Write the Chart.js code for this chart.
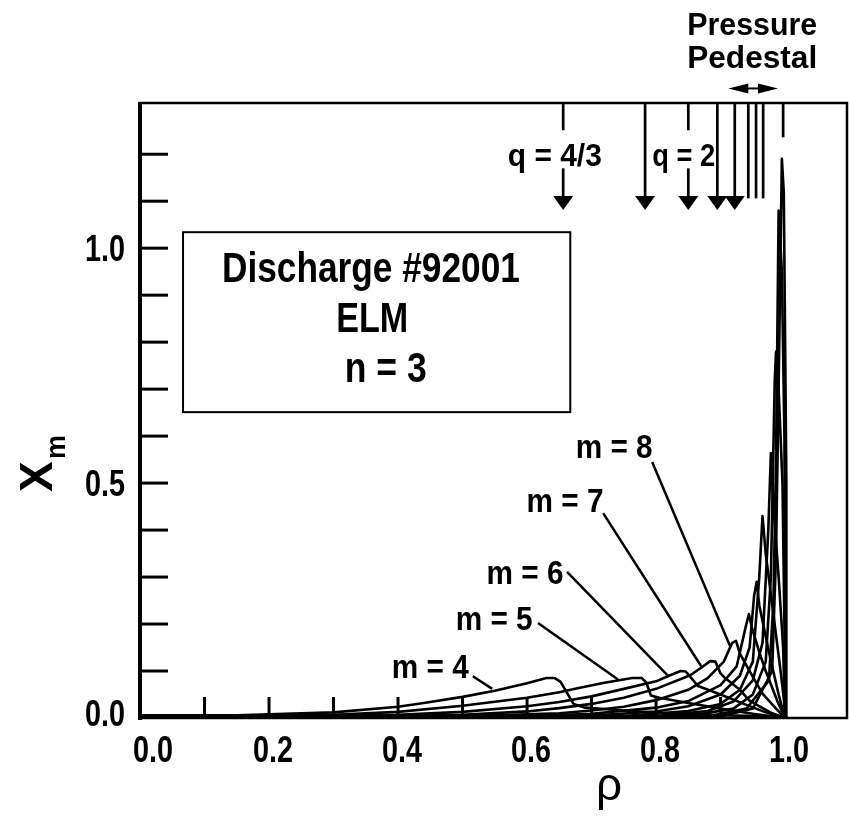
<!DOCTYPE html>
<html>
<head>
<meta charset="utf-8">
<script src="https://cdn.jsdelivr.net/npm/chart.js@4.4.1/dist/chart.umd.min.js"></script>
<style>
  html, body { margin: 0; padding: 0; background: #fff; }
  #wrap { width: 849px; height: 819px; }
</style>
</head>
<body>
<div id="wrap"><canvas id="xmChart"></canvas></div>
<script>
// X_m profiles of the n = 3 harmonics against rho, one curve per poloidal m
const modeNumbers = [4, 5, 6, 7, 8, 9, 10, 11, 12, 13, 14, 15];

const m4 = [[0, 0.006], [0.15, 0.006], [0.3, 0.012], [0.4, 0.024], [0.44, 0.032], [0.5, 0.045], [0.55, 0.058],
  [0.6, 0.074], [0.63, 0.085], [0.643, 0.085], [0.652, 0.077], [0.672, 0.03], [0.69, 0.022], [0.75, 0.016],
  [0.82, 0.01], [0.9, 0.006], [0.96, 0.004], [1.0, 0]];
const m5 = [[0, 0.005], [0.2, 0.005], [0.3, 0.007], [0.4, 0.013], [0.5, 0.026], [0.6, 0.043], [0.65, 0.055],
  [0.68, 0.064], [0.72, 0.075], [0.763, 0.085], [0.778, 0.085], [0.785, 0.075], [0.792, 0.048], [0.805, 0.043],
  [0.85, 0.032], [0.9, 0.02], [0.95, 0.009], [1.0, 0]];
const m6 = [[0, 0.005], [0.3, 0.005], [0.4, 0.007], [0.5, 0.013], [0.6, 0.025], [0.65, 0.034], [0.7, 0.046],
  [0.75, 0.062], [0.8, 0.078], [0.82, 0.09], [0.838, 0.1], [0.846, 0.099], [0.857, 0.081], [0.865, 0.068],
  [0.9, 0.05], [0.94, 0.028], [0.97, 0.012], [1.0, 0]];
const m7 = [[0, 0.004], [0.4, 0.004], [0.5, 0.007], [0.6, 0.014], [0.65, 0.021], [0.7, 0.03], [0.75, 0.043],
  [0.8, 0.062], [0.853, 0.091], [0.871, 0.108], [0.884, 0.121], [0.892, 0.12], [0.9, 0.095], [0.907, 0.085],
  [0.93, 0.06], [0.944, 0.038], [0.96, 0.025], [0.98, 0.01], [1.0, 0]];
const m8 = [[0, 0.004], [0.5, 0.004], [0.6, 0.008], [0.65, 0.01], [0.7, 0.016], [0.75, 0.024], [0.8, 0.038],
  [0.85, 0.06], [0.88, 0.085], [0.905, 0.12], [0.918, 0.16], [0.924, 0.164], [0.93, 0.137], [0.945, 0.1],
  [0.965, 0.052], [0.986, 0.02], [1.0, 0]];
const m9 = [[0, 0.003], [0.6, 0.004], [0.7, 0.009], [0.8, 0.022], [0.85, 0.036], [0.9, 0.07], [0.925, 0.11],
  [0.94, 0.2], [0.944, 0.221], [0.949, 0.19], [0.96, 0.14], [0.97, 0.1], [0.988, 0.036], [1.0, 0]];
const m10 = [[0, 0.003], [0.7, 0.005], [0.8, 0.014], [0.85, 0.025], [0.9, 0.05], [0.93, 0.09], [0.945, 0.15],
  [0.952, 0.26], [0.956, 0.29], [0.96, 0.24], [0.975, 0.14], [0.99, 0.05], [1.0, 0]];
const m11 = [[0, 0.002], [0.75, 0.004], [0.85, 0.015], [0.9, 0.03], [0.93, 0.06], [0.95, 0.12], [0.96, 0.3],
  [0.965, 0.43], [0.97, 0.35], [0.982, 0.22], [0.993, 0.1], [0.999, 0.03], [1.0, 0]];
const m12 = [[0, 0.002], [0.8, 0.004], [0.88, 0.015], [0.92, 0.035], [0.95, 0.08], [0.965, 0.16], [0.974, 0.4],
  [0.978, 0.564], [0.982, 0.45], [0.99, 0.3], [0.997, 0.15], [1.0, 0]];
const m13 = [[0, 0.001], [0.85, 0.004], [0.92, 0.02], [0.95, 0.05], [0.97, 0.12], [0.978, 0.3], [0.984, 0.72],
  [0.986, 0.78], [0.99, 0.7], [0.996, 0.5], [0.999, 0.2], [1.0, 0]];
const m14 = [[0, 0.001], [0.88, 0.003], [0.94, 0.02], [0.975, 0.08], [0.982, 0.25], [0.986, 0.55], [0.99, 1.08],
  [0.995, 0.95], [0.999, 0.6], [1.001, 0]];
const m15 = [[0, 0.001], [0.9, 0.003], [0.95, 0.02], [0.98, 0.1], [0.986, 0.35], [0.99, 0.7], [0.995, 1.19],
  [0.998, 1.12], [1.002, 0.5], [1.002, 0]];
const modeCurves = [m4, m5, m6, m7, m8, m9, m10, m11, m12, m13, m14, m15];

// axes
const xTicks = [0.1, 0.2, 0.3, 0.4, 0.5, 0.6, 0.7, 0.8, 0.9, 1.0];
const xTickLabels = ['0.0', '0.2', '0.4', '0.6', '0.8', '1.0'];
const xLabelValues = [0, 0.2, 0.4, 0.6, 0.8, 1.0];
const yTicks = [0.1, 0.2, 0.3, 0.4, 0.5, 0.6, 0.7, 0.8, 0.9, 1.0, 1.1, 1.2];
const yTickLabels = ['0.0', '0.5', '1.0'];
const yLabelValues = [0, 0.5, 1.0];

// rational surfaces along the top
const qArrowRho = [0.656, 0.783, 0.850, 0.895, 0.922];
const qLineRho = [0.943, 0.955, 0.966];
const edgeRho = 0.997;
const pedestalRho = [0.912, 0.989];

// labelled harmonics: text anchor and the point the leader touches
const labelModes = ['m = 4', 'm = 5', 'm = 6', 'm = 7', 'm = 8'];
const labelAt = [[0.450, 0.085], [0.549, 0.187], [0.597, 0.285], [0.659, 0.438], [0.735, 0.553]];
const leaderFrom = [[0.516, 0.089], [0.617, 0.202], [0.662, 0.311], [0.718, 0.436], [0.794, 0.545]];
const leaderTo = [[0.546, 0.062], [0.741, 0.082], [0.819, 0.089], [0.871, 0.108], [0.915, 0.152]];

const FONT = '"Liberation Sans", Arial, sans-serif';

// bold text squeezed to a given width, centred on cx
function fitText(ctx, text, cx, base, size, width) {
  ctx.save();
  ctx.font = 'bold ' + size + 'px ' + FONT;
  const w = ctx.measureText(text).width;
  ctx.translate(cx, base);
  ctx.scale(width / w, 1);
  ctx.textAlign = 'center';
  ctx.textBaseline = 'alphabetic';
  ctx.fillText(text, 0, 0);
  ctx.restore();
}

function line(ctx, x1, y1, x2, y2) {
  ctx.beginPath();
  ctx.moveTo(x1, y1);
  ctx.lineTo(x2, y2);
  ctx.stroke();
}

const decorations = {
  id: 'decorations',
  afterDatasetsDraw(chart) {
    const ctx = chart.ctx;
    const xs = chart.scales.x, ys = chart.scales.y;
    const a = chart.chartArea;
    const px = v => xs.getPixelForValue(v);
    const py = v => ys.getPixelForValue(v);

    ctx.save();
    ctx.strokeStyle = '#000';
    ctx.fillStyle = '#000';
    ctx.lineCap = 'butt';

    // frame
    ctx.lineWidth = 2.5;
    ctx.strokeRect(a.left, a.top, a.right - a.left, a.bottom - a.top);
    ctx.lineWidth = 4;
    line(ctx, a.left, a.top - 1, a.left, a.bottom + 2);

    // inward ticks
    ctx.lineWidth = 3;
    xTicks.forEach(v => line(ctx, px(v), a.bottom, px(v), a.bottom - 21));
    yTicks.forEach(v => line(ctx, a.left, py(v), a.left + 28, py(v)));

    // tick labels
    xLabelValues.forEach((v, i) => {
      const shift = v === 0 ? 13 : 4;
      fitText(ctx, xTickLabels[i], px(v) + shift, a.bottom + 44, 37, 40);
    });
    yLabelValues.forEach((v, i) => {
      const lift = v === 0 ? -5 : 0;
      fitText(ctx, yTickLabels[i], 105, py(v) + 13 + lift, 37, 40);
    });

    // axis titles
    ctx.font = '46px ' + FONT;
    ctx.textAlign = 'center';
    ctx.textBaseline = 'alphabetic';
    ctx.fillText('\u03c1', 609, 800);

    ctx.save();
    ctx.translate(52, 492);
    ctx.rotate(-Math.PI / 2);
    ctx.textAlign = 'left';
    ctx.font = 'bold 46px ' + FONT;
    ctx.fillText('X', 0, 0);
    ctx.font = 'bold 27px ' + FONT;
    ctx.fillText('m', 33, 13);
    ctx.restore();

    // discharge box
    ctx.lineWidth = 2;
    ctx.strokeRect(px(0.0667), py(1.034), px(0.667) - px(0.0667), py(0.651) - py(1.034));
    fitText(ctx, 'Discharge #92001', px(0.358), py(0.928), 42, 298);
    fitText(ctx, 'ELM', px(0.360), py(0.821), 42, 72);
    fitText(ctx, 'n = 3', px(0.381), py(0.715), 42, 82);

    // rational surface arrows
    ctx.lineWidth = 2.7;
    const top = a.top;
    const tipY = py(1.081);
    qArrowRho.forEach((r, i) => {
      const x = px(r);
      if (i === 0 || i === 2) {
        line(ctx, x, top, x, py(1.251));
        line(ctx, x, py(1.170), x, tipY - 10);
      } else {
        line(ctx, x, top, x, tipY - 10);
      }
      ctx.beginPath();
      ctx.moveTo(x - 10, tipY - 14);
      ctx.lineTo(x + 10, tipY - 14);
      ctx.lineTo(x, tipY);
      ctx.closePath();
      ctx.fill();
    });
    qLineRho.forEach(r => line(ctx, px(r), top, px(r), py(1.106)));
    line(ctx, px(edgeRho), top, px(edgeRho), py(1.236));
    fitText(ctx, 'q = 4/3', px(0.643), py(1.174), 31, 94);
    fitText(ctx, 'q = 2', px(0.843), py(1.174), 31, 63);

    // pressure pedestal width
    const pyPed = py(1.340);
    const x1 = px(pedestalRho[0]), x2 = px(pedestalRho[1]);
    ctx.lineWidth = 2;
    line(ctx, x1 + 10, pyPed, x2 - 10, pyPed);
    ctx.beginPath();
    ctx.moveTo(x1, pyPed);
    ctx.lineTo(x1 + 20, pyPed - 5);
    ctx.lineTo(x1 + 20, pyPed + 5);
    ctx.closePath();
    ctx.fill();
    ctx.beginPath();
    ctx.moveTo(x2, pyPed);
    ctx.lineTo(x2 - 20, pyPed - 5);
    ctx.lineTo(x2 - 20, pyPed + 5);
    ctx.closePath();
    ctx.fill();
    fitText(ctx, 'Pressure', px(0.949), py(1.453), 31, 130);
    fitText(ctx, 'Pedestal', px(0.949), py(1.383), 31, 130);

    // mode labels with leaders
    ctx.lineWidth = 2.5;
    labelModes.forEach((t, i) => {
      fitText(ctx, t, px(labelAt[i][0]), py(labelAt[i][1]), 33, 77);
      line(ctx, px(leaderFrom[i][0]), py(leaderFrom[i][1]), px(leaderTo[i][0]), py(leaderTo[i][1]));
    });

    ctx.restore();
  }
};

const datasets = modeCurves.map((pts, i) => ({
  label: 'm = ' + modeNumbers[i],
  data: pts.map(p => ({ x: p[0], y: p[1] })),
  showLine: true,
  borderColor: '#000',
  borderWidth: 2.6,
  borderJoinStyle: 'round',
  pointRadius: 0,
  tension: 0,
  fill: false
}));

new Chart(document.getElementById('xmChart'), {
  type: 'scatter',
  data: { datasets },
  options: {
    responsive: true,
    maintainAspectRatio: false,
    animation: false,
    events: [],
    layout: { padding: { left: 140, right: 2, top: 103, bottom: 101 } },
    plugins: { legend: { display: false }, tooltip: { enabled: false }, title: { display: false } },
    scales: {
      x: { type: 'linear', min: 0, max: 1.096, display: false },
      y: { type: 'linear', min: 0, max: 1.309, display: false }
    }
  },
  plugins: [decorations]
});
</script>
</body>
</html>
